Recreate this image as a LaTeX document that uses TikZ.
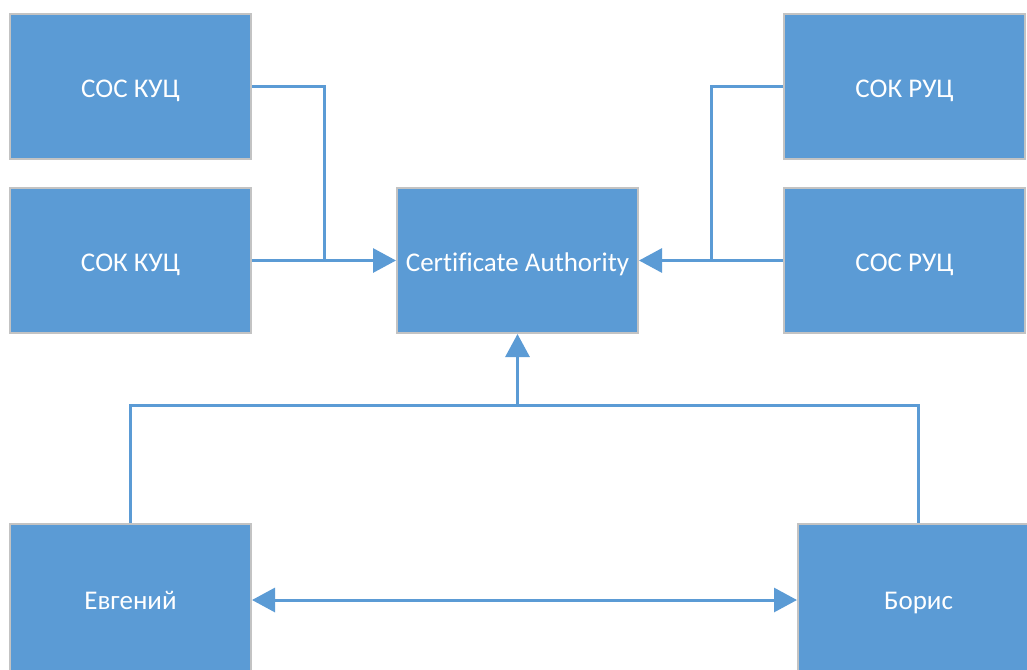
\documentclass[tikz,border=0pt]{standalone}
\usepackage{fontspec}
\setmainfont[Ligatures=NoCommon]{Carlito}
\usetikzlibrary{arrows.meta}
\definecolor{boxfill}{HTML}{5B9BD5}
\definecolor{boxline}{HTML}{C3C3C3}
\definecolor{conn}{HTML}{5B9BD5}
\tikzset{
  blk/.style={draw=boxline, line width=2pt, fill=boxfill, minimum width=241pt, minimum height=145pt,
    inner sep=0pt, text=white, font=\fontsize{27}{32}\selectfont, text height=21pt, text depth=0pt},
  wire/.style={draw=conn, line width=3pt, line join=miter},
  tip/.style={-{Triangle[length=23pt,width=24pt]}}
}
\begin{document}
\begin{tikzpicture}[x=1pt,y=-1pt]
\useasboundingbox (0,0) rectangle (1027,669);
\fill[white] (0,0) rectangle (1027,669);
\clip (0,0) rectangle (1027,669);
\node[blk] (sosK) at (130.5,86.5) {СОС КУЦ};
\node[blk] (sokK) at (130.5,260.5) {СОК КУЦ};
\node[blk] (ca) at (517.5,260.5) {Certificate Authority};
\node[blk] (sokR) at (904.5,86.5) {СОК РУЦ};
\node[blk] (sosR) at (904.5,260.5) {СОС РУЦ};
\node[blk, minimum height=155pt, text height=15pt] (evg) at (130.5,601.5) {Евгений};
\node[blk, minimum height=155pt, text height=15pt] (bor) at (918.5,601.5) {Борис};
\coordinate (jL) at (324,260.5);
\coordinate (jR) at (711,260.5);
\coordinate (jB) at (517.5,405);
\draw[wire] (sosK.east) -| (jL);
\draw[wire,tip] (sokK.east) -- (ca.west);
\draw[wire] (sokR.west) -| (jR);
\draw[wire,tip] (sosR.west) -- (ca.east);
\draw[wire] (evg.north) |- (jB) -| (bor.north);
\draw[wire,tip] (jB) -- (ca.south);
\draw[wire,{Triangle[length=23pt,width=24pt]}-{Triangle[length=23pt,width=24pt]}] (evg.east |- 0,600) -- (bor.west |- 0,600);
\end{tikzpicture}
\end{document}
